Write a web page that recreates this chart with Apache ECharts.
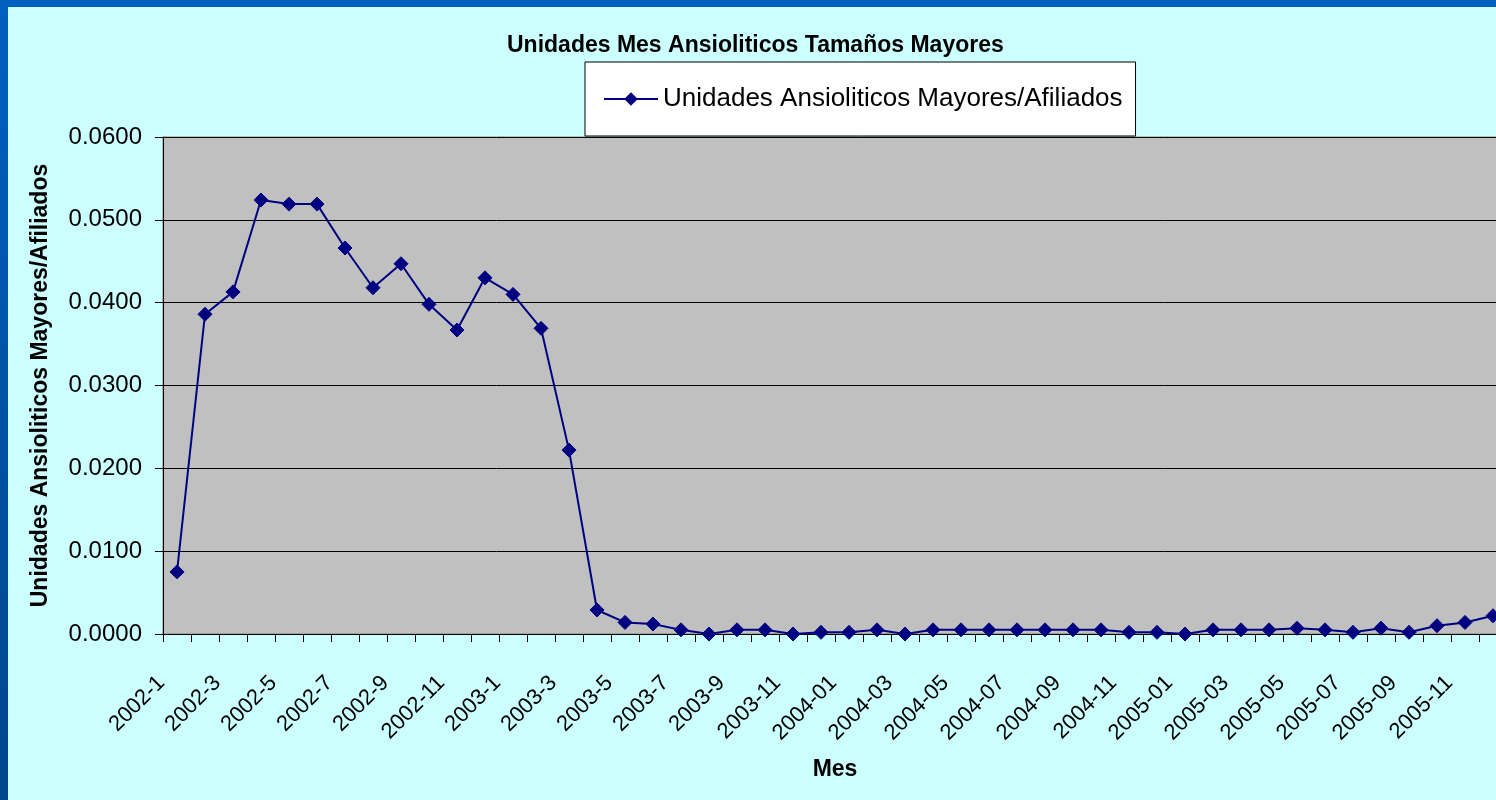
<!DOCTYPE html>
<html>
<head>
<meta charset="utf-8">
<script src="https://cdn.jsdelivr.net/npm/echarts@6/dist/echarts.min.js"></script>
<style>
html,body{margin:0;padding:0;background:#CCFFFF;}
#chart{width:1496px;height:800px;}
</style>
</head>
<body>
<div id="chart"></div>
<script>
var categories = [
  '2002-1','2002-2','2002-3','2002-4','2002-5','2002-6','2002-7','2002-8','2002-9','2002-10','2002-11','2002-12',
  '2003-1','2003-2','2003-3','2003-4','2003-5','2003-6','2003-7','2003-8','2003-9','2003-10','2003-11','2003-12',
  '2004-01','2004-02','2004-03','2004-04','2004-05','2004-06','2004-07','2004-08','2004-09','2004-10','2004-11','2004-12',
  '2005-01','2005-02','2005-03','2005-04','2005-05','2005-06','2005-07','2005-08','2005-09','2005-10','2005-11','2005-12'
];
var seriesName = 'Unidades Ansioliticos Mayores/Afiliados';
var values = [
  0.0075,0.0386,0.0413,0.0524,0.0519,0.0519,0.0466,0.0418,0.0447,0.0398,0.0367,0.0430,
  0.0410,0.0369,0.0222,0.0029,0.0014,0.0012,0.0005,0.0000,0.0005,0.0005,0.0000,0.0002,
  0.0002,0.0005,0.0000,0.0005,0.0005,0.0005,0.0005,0.0005,0.0005,0.0005,0.0002,0.0002,
  0.0000,0.0005,0.0005,0.0005,0.0007,0.0005,0.0002,0.0007,0.0002,0.0010,0.0014,0.0022
];
var titleText = 'Unidades Mes Ansioliticos Tamaños Mayores';
var xAxisName = 'Mes';
var yAxisName = 'Unidades Ansioliticos Mayores/Afiliados';
var yMin = 0, yMax = 0.06, yInterval = 0.01;

var chart = echarts.init(document.getElementById('chart'), null, {renderer:'canvas'});
var fontFam = '"Liberation Sans", Arial, sans-serif';
chart.setOption({
  backgroundColor: '#CCFFFF',
  animation: false,
  title: {
    text: titleText,
    left: 507, top: 34, padding: 0,
    textStyle: {fontFamily: fontFam, fontSize: 23, fontWeight: 'bold', color: '#000'}
  },
  legend: {
    left: 585, top: 62,
    padding: [22, 13, 22, 18],
    backgroundColor: '#FFFFFF',
    borderColor: '#000000', borderWidth: 1,
    itemWidth: 54, itemHeight: 17, itemGap: 8,
    textStyle: {fontFamily: fontFam, fontSize: 26, color: '#000', lineHeight: 30},
    data: [seriesName]
  },
  graphic: [
    {type:'rect', left:0, top:0, shape:{width:1496, height:7}, style:{fill:'#0060C0'}, z:100},
    {type:'rect', left:0, top:0, shape:{width:8, height:800},
      style:{fill:new echarts.graphic.LinearGradient(0,0,0,1,[{offset:0,color:'#0060C0'},{offset:1,color:'#00468A'}])}, z:100}
  ],
  grid: {
    left: 163, top: 137, width: 1344, height: 497,
    outerBoundsMode: 'none',
    containLabel: false,
    show: true, backgroundColor: '#C0C0C0', borderColor: '#808080', borderWidth: 1
  },
  xAxis: {
    type: 'category',
    data: categories,
    boundaryGap: true,
    name: xAxisName,
    nameLocation: 'middle',
    nameGap: 124,
    nameTextStyle: {fontFamily: fontFam, fontSize: 23, fontWeight: 'bold', color: '#000'},
    axisLine: {show: true, lineStyle: {color: '#000', width: 1}},
    axisTick: {show: true, interval: 0, length: 8, inside: false, lineStyle: {color: '#000'}},
    axisLabel: {
      interval: 1, rotate: 45, margin: 30, padding: [0, 22, 0, 0],
      hideOverlap: false,
      fontFamily: fontFam, fontSize: 22, color: '#000'
    },
    splitLine: {show: false}
  },
  yAxis: {
    type: 'value',
    min: yMin, max: yMax, interval: yInterval,
    name: yAxisName,
    nameLocation: 'middle',
    nameGap: 111,
    nameTextStyle: {fontFamily: fontFam, fontSize: 23, fontWeight: 'bold', color: '#000'},
    axisLine: {show: true, lineStyle: {color: '#000', width: 1}},
    axisTick: {show: true, length: 8, inside: false, lineStyle: {color: '#000'}},
    axisLabel: {
      margin: 21, fontFamily: fontFam, fontSize: 24, color: '#000',
      formatter: function (v) { return v.toFixed(4); }
    },
    splitLine: {show: true, lineStyle: {color: '#000', width: 1}}
  },
  series: [{
    name: seriesName,
    type: 'line',
    data: values,
    symbol: 'diamond',
    symbolSize: 14,
    showSymbol: true,
    clip: false,
    lineStyle: {color: '#000080', width: 2},
    itemStyle: {color: '#000080', borderColor: '#000080'}
  }]
});
</script>
</body>
</html>
